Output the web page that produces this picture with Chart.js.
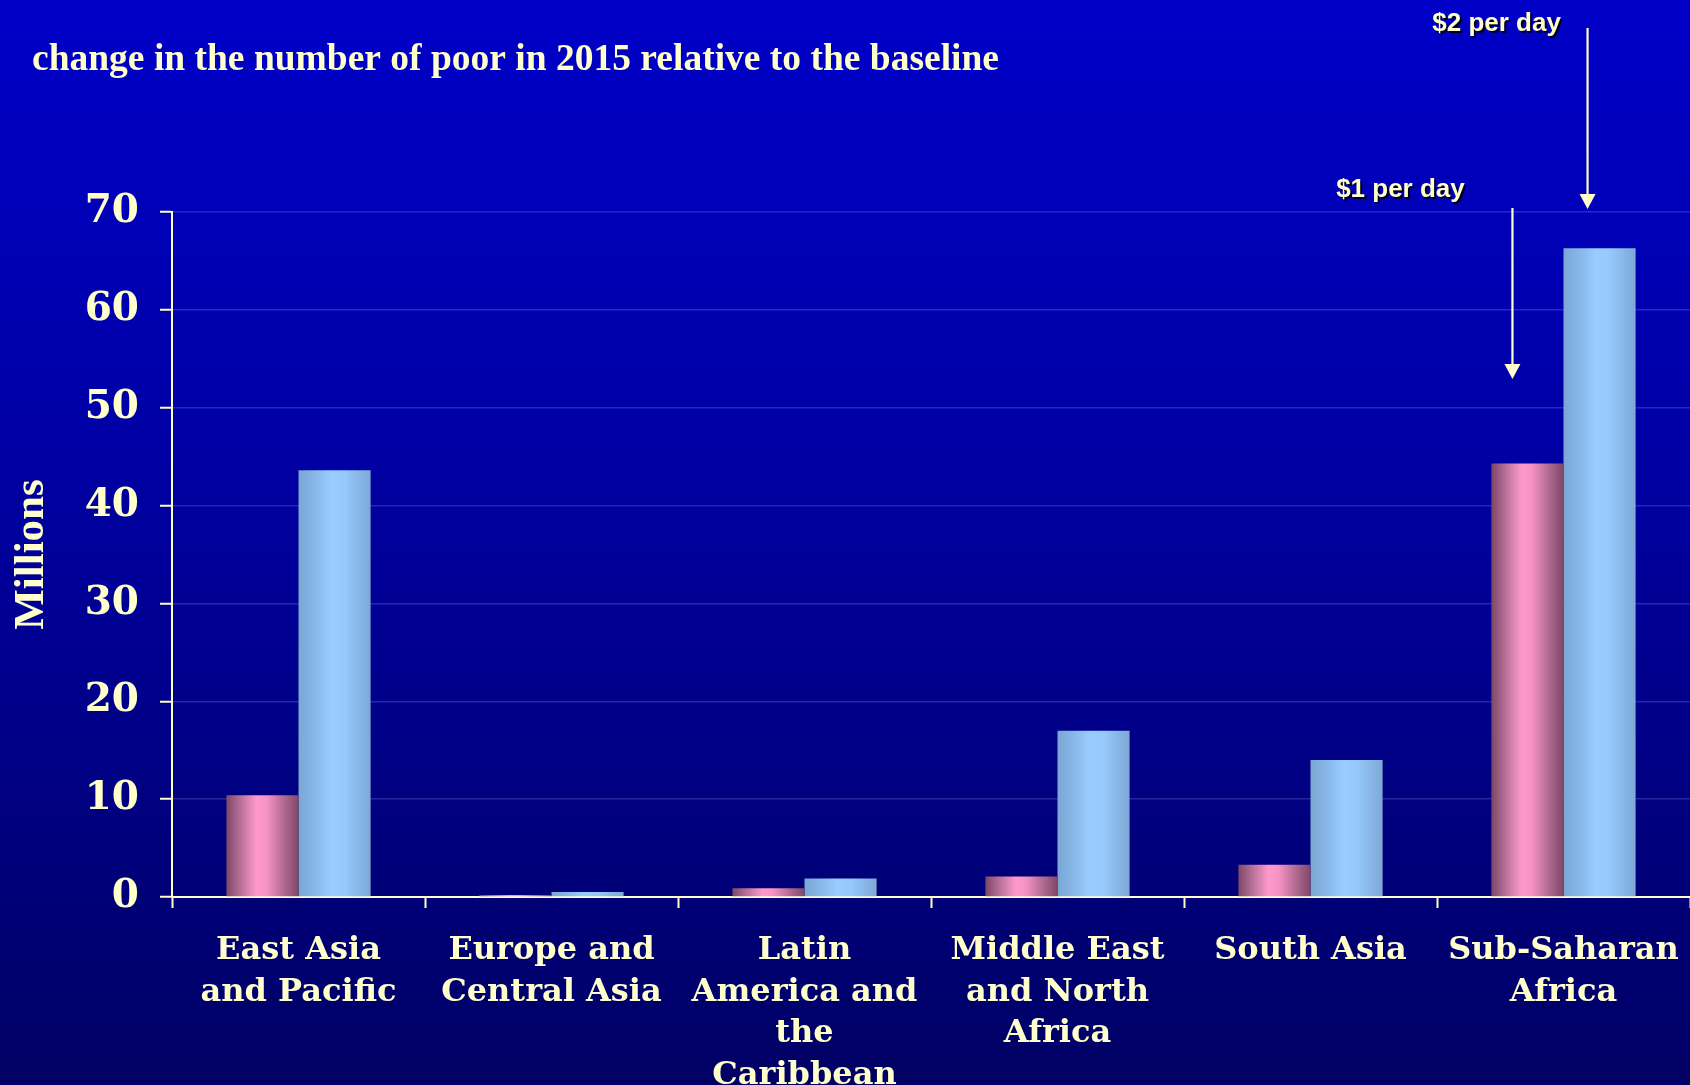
<!DOCTYPE html>
<html>
<head>
<meta charset="utf-8">
<script src="https://cdn.jsdelivr.net/npm/chart.js@4/dist/chart.umd.min.js"></script>
<style>
html, body { margin: 0; padding: 0; overflow: hidden; width: 1690px; height: 1085px;
  background: linear-gradient(to bottom, #0000c8 0%, #0000a6 40%, #000064 100%); }
canvas { display: block; }
</style>
</head>
<body>
<canvas id="c" width="1690" height="1085"></canvas>
<script>
// ---- data ----
const categories = [
  ["East Asia", "and Pacific"],
  ["Europe and", "Central Asia"],
  ["Latin", "America and", "the", "Caribbean"],
  ["Middle East", "and North", "Africa"],
  ["South Asia"],
  ["Sub-Saharan", "Africa"]
];
const seriesNames = ["$1 per day", "$2 per day"];
const onePerDay = [10.4, 0.2, 0.9, 2.1, 3.3, 44.3];
const twoPerDay = [43.6, 0.5, 1.9, 17.0, 14.0, 66.3];
const yTickValues = [0, 10, 20, 30, 40, 50, 60, 70];
const chartTitle = "change in the number of poor in 2015 relative to the baseline";
const yAxisTitle = "Millions";

// ---- styles ----
const CREAM = "#ffffcc";
const pinkStops = [[0, "#7c4666"], [0.18, "#b26e95"], [0.42, "#ff99cc"], [0.56, "#f593c5"], [0.8, "#b06a90"], [1, "#7e4767"]];
const blueStops = [[0, "#7aa6d2"], [0.2, "#86b5e6"], [0.45, "#99ccff"], [0.65, "#96c8fc"], [0.85, "#87b5e5"], [1, "#7ea8d6"]];

const gradientBars = {
  id: "gradientBars",
  beforeDatasetsDraw(chart) {
    const ctx = chart.ctx;
    chart.data.datasets.forEach((ds, di) => {
      const meta = chart.getDatasetMeta(di);
      const stops = di === 0 ? pinkStops : blueStops;
      meta.data.forEach(el => {
        const g = ctx.createLinearGradient(el.x - el.width / 2, 0, el.x + el.width / 2, 0);
        stops.forEach(s => g.addColorStop(s[0], s[1]));
        const o = Object.assign({}, el.options);
        delete o.$shared;
        o.backgroundColor = g;
        el.options = o;
      });
    });
  }
};

function drawArrow(ctx, x, y0, y1) {
  ctx.save();
  ctx.strokeStyle = CREAM;
  ctx.fillStyle = CREAM;
  ctx.lineWidth = 2.2;
  ctx.beginPath();
  ctx.moveTo(x, y0);
  ctx.lineTo(x, y1 - 14);
  ctx.stroke();
  ctx.beginPath();
  ctx.moveTo(x - 8, y1 - 15);
  ctx.lineTo(x + 8, y1 - 15);
  ctx.lineTo(x, y1);
  ctx.closePath();
  ctx.fill();
  ctx.restore();
}

const annotations = {
  id: "annotations",
  afterDraw(chart) {
    const ctx = chart.ctx;
    const area = chart.chartArea;
    // chart title
    ctx.save();
    ctx.fillStyle = CREAM;
    ctx.font = "bold 37.5px 'Liberation Serif', 'Times New Roman', serif";
    ctx.textAlign = "left";
    ctx.textBaseline = "alphabetic";
    ctx.fillText(chartTitle, 32, 70);
    ctx.restore();

    const last = categories.length - 1;
    const pinkEl = chart.getDatasetMeta(0).data[last];
    const blueEl = chart.getDatasetMeta(1).data[last];
    const x1 = pinkEl.x - 15;
    const x2 = blueEl.x - 12;
    drawArrow(ctx, x1, area.top - 4, area.top + 167);
    drawArrow(ctx, x2, 28, area.top - 3);

    ctx.save();
    ctx.font = "bold 26px 'Liberation Sans', Arial, sans-serif";
    ctx.textAlign = "center";
    ctx.textBaseline = "alphabetic";
    ctx.shadowColor = "rgba(0,0,0,0.85)";
    ctx.shadowOffsetX = 2;
    ctx.shadowOffsetY = 2;
    ctx.shadowBlur = 0;
    ctx.fillStyle = CREAM;
    ctx.fillText(seriesNames[0], x1 - 112, area.top - 15);
    ctx.fillText(seriesNames[1], x2 - 91, 31);
    ctx.restore();
  }
};

new Chart(document.getElementById("c"), {
  type: "bar",
  data: {
    labels: categories,
    datasets: [
      { label: seriesNames[0], data: onePerDay, backgroundColor: "#ff99cc", borderWidth: 0,
        categoryPercentage: 0.57, barPercentage: 1.0 },
      { label: seriesNames[1], data: twoPerDay, backgroundColor: "#99ccff", borderWidth: 0,
        categoryPercentage: 0.57, barPercentage: 1.0 }
    ]
  },
  options: {
    responsive: false,
    devicePixelRatio: 1,
    animation: false,
    events: [],
    layout: { padding: { top: 212, left: 0, right: 0, bottom: 0 } },
    plugins: {
      legend: { display: false },
      tooltip: { enabled: false },
      title: { display: false }
    },
    scales: {
      x: {
        type: "category",
        offset: true,
        grid: { offset: true, drawOnChartArea: false, drawTicks: true, tickLength: 11,
                tickColor: CREAM, tickWidth: 2 },
        border: { color: CREAM, width: 2 },
        ticks: {
          color: CREAM,
          font: { family: "'DejaVu Serif', serif", weight: "bold", size: 32, lineHeight: 1.3 },
          padding: 22,
          maxRotation: 0,
          autoSkip: false
        },
        afterFit(scale) { scale.height = 188; scale.paddingLeft = 0; scale.paddingRight = 0; }
      },
      y: {
        min: 0,
        max: 70,
        afterBuildTicks(scale) { scale.ticks = yTickValues.map(v => ({ value: v })); },
        grid: { color: "rgba(130,130,240,0.3)", lineWidth: 1.5, drawTicks: true, tickLength: 12,
                tickColor: CREAM, tickWidth: 2 },
        border: { color: CREAM, width: 2 },
        ticks: {
          color: CREAM,
          font: { family: "'DejaVu Serif', serif", weight: "bold", size: 39 },
          padding: 21
        },
        title: {
          display: true,
          text: yAxisTitle,
          color: CREAM,
          font: { family: "'Liberation Serif', 'Times New Roman', serif", weight: "bold", size: 43, lineHeight: 1.2 },
          padding: { top: 6, bottom: 0 }
        },
        afterFit(scale) { scale.width = 172; }
      }
    }
  },
  plugins: [gradientBars, annotations]
});
</script>
</body>
</html>
